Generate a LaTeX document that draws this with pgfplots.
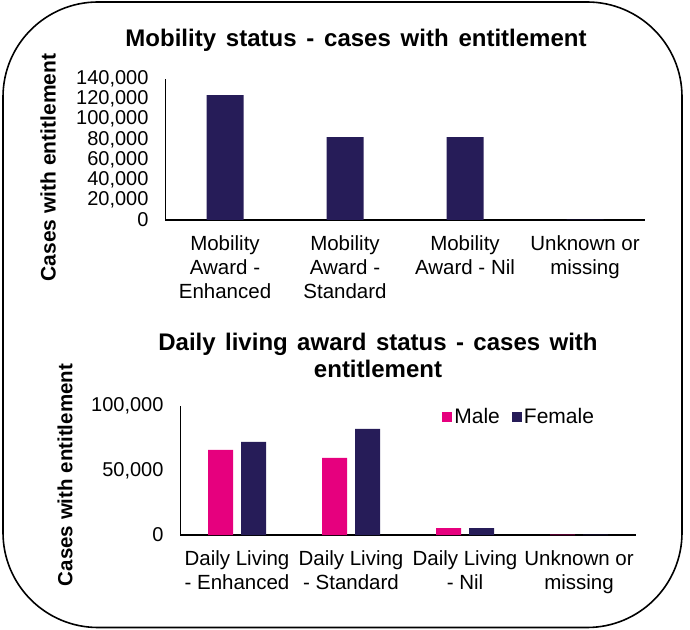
\documentclass[border=0pt]{standalone}
\usepackage{pgfplots}
\pgfplotsset{compat=1.18}
\usepackage{fontspec}
\setmainfont{Liberation Sans}
\definecolor{navy}{HTML}{261C58}
\definecolor{pinkm}{HTML}{E6007E}
\pgfplotsset{mystyle/.style={
  scale only axis,
  axis x line*=bottom, axis y line*=left,
  x axis line style={black, line width=1.3pt},
  y axis line style={black, line width=0.8pt},
  major tick length=0pt,
  tick label style={font=\fontsize{20}{24}\selectfont},
  x tick label style={font=\fontsize{20.5}{24}\selectfont},
  scaled y ticks=false,
  xmin=-0.5, xmax=3.5, xtick={0,1,2,3}, ymin=0,
  x tick label style={align=center},
  xticklabel style={yshift=-12pt},
  yticklabel style={xshift=-13pt},
}}
\begin{document}
\begin{tikzpicture}[x=1pt,y=1pt]
\useasboundingbox (0,0) rectangle (690,629);
\draw[line width=1.6pt, rounded corners=95pt] (3,1.5) rectangle (682,627);
\coordinate (A) at (165,409);
\coordinate (B) at (180,94);

\begin{axis}[mystyle, at={(A)}, anchor=south west,
  width=480pt, height=141pt, ymax=140000,
  ytick={0,20000,40000,60000,80000,100000,120000,140000},
  yticklabels={0,{20,000},{40,000},{60,000},{80,000},{100,000},{120,000},{140,000}},
  ybar, bar width=37pt,
  xticklabels={{Mobility\\Award -\\Enhanced},{Mobility\\Award -\\Standard},{Mobility\\Award - Nil},{Unknown or\\missing}}]
\addplot[fill=navy, draw=none] coordinates {(0,124000) (1,82400) (2,82400) (3,400)};
\end{axis}

\begin{axis}[mystyle, at={(B)}, anchor=south west,
  width=456pt, height=129pt, ymax=100000,
  ytick={0,50000,100000},
  yticklabels={0,{50,000},{100,000}},
  ybar=8pt, bar width=25pt,
  xticklabels={{Daily Living\\- Enhanced},{Daily Living\\- Standard},{Daily Living\\- Nil},{Unknown or\\missing}},
  legend style={at={(0.575,0.915)}, anchor=west, draw=none, fill=none, inner sep=0pt,
    legend columns=2, font=\fontsize{21}{24}\selectfont,
    /tikz/every even column/.append style={column sep=10pt}}]
\addplot[fill=pinkm, draw=none, legend image code/.code={\fill[pinkm] (0pt,-5pt) rectangle (10pt,5pt);}] coordinates {(0,65900) (1,59700) (2,5400) (3,200)};
\addlegendentry{Male}
\addplot[fill=navy, draw=none, legend image code/.code={\fill[navy] (0pt,-5pt) rectangle (10pt,5pt);}] coordinates {(0,72100) (1,82200) (2,5400) (3,200)};
\addlegendentry{Female}
\end{axis}

\node[font={\bfseries\fontsize{24}{28}\selectfont}] at (356,589) {\spaceskip 9.8pt\relax Mobility status - cases with entitlement};
\node[font={\bfseries\fontsize{24}{27}\selectfont}, align=center] at (378,273.5) {\spaceskip 9.4pt\relax Daily living award status - cases with\\entitlement};
\node[rotate=90, font=\bfseries\fontsize{21}{24}\selectfont] at (48,461.5) {Cases with entitlement};
\node[rotate=90, font=\bfseries\fontsize{20.5}{24}\selectfont] at (65,154) {Cases with entitlement};
\end{tikzpicture}
\end{document}
